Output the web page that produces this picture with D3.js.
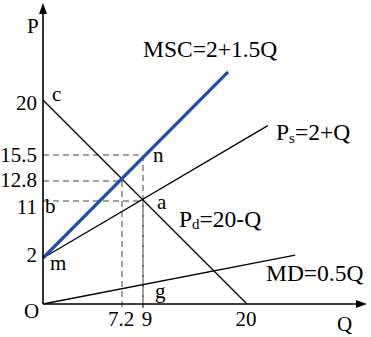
<!DOCTYPE html>
<html>
<head>
<meta charset="utf-8">
<script src="https://cdn.jsdelivr.net/npm/d3@7"></script>
<style>
  body { margin: 0; background: #fff; }
  text { font-family: "Liberation Serif", "Times New Roman", serif; fill: #000; }
</style>
</head>
<body>
<script>
// Schematic diagram: the axes are not to scale, so the scales are piecewise
const qTicks = [7.2, 9, 20];
const pTicks = [20, 15.5, 12.8, 11, 2];

// curves as [Q, P] end points
const msc = [[0, 2], [18, 22.3]];
const ps  = [[0, 2], [22.2, 17.9]];
const pd  = [[0, 20], [20, 0]];
const md  = [[0, 0], [25.1, 2.47]];

// dashed guide lines: [Q, P]
const guides = [[9, 15.5], [7.2, 12.8], [9, 11]];

// point letters: [letter, Q, P]
const points = [["c", 0, 20], ["n", 9, 15.5], ["a", 9, 11], ["b", 0, 11], ["m", 0, 2], ["g", 9, 0.84]];

const width = 371, height = 337;

const x = d3.scaleLinear()
    .domain([0, 7.2, 9, 20])
    .range([43, 122, 143, 247]);

const y = d3.scaleLinear()
    .domain([0, 2, 11, 12.8, 15.5, 20])
    .range([304, 258, 201, 181, 155, 100]);

const svg = d3.select("body").append("svg")
    .attr("width", width)
    .attr("height", height)
    .attr("viewBox", [0, 0, width, height]);

const line = d3.line()
    .x(d => x(d[0]))
    .y(d => y(d[1]));

// dashed guides
guides.forEach(([q, p]) => {
  svg.append("path")
      .attr("d", line([[0, p], [q, p]]))
      .attr("stroke", "#444")
      .attr("stroke-width", 1)
      .attr("stroke-dasharray", "6,4")
      .attr("fill", "none");
  svg.append("path")
      .attr("d", line([[q, p], [q, -0.18]]))
      .attr("stroke", "#444")
      .attr("stroke-width", 1)
      .attr("stroke-dasharray", "6,4")
      .attr("fill", "none");
});

// black curves
[ps, pd, md].forEach(c => {
  svg.append("path")
      .attr("d", line(c))
      .attr("stroke", "#000")
      .attr("stroke-width", 1.3)
      .attr("fill", "none");
});

// MSC in blue
svg.append("path")
    .attr("d", line(msc))
    .attr("stroke", "#1e4fb0")
    .attr("stroke-width", 3.2)
    .attr("fill", "none");

// axes with arrows
const x0 = x(0), y0 = y(0);
svg.append("line")
    .attr("x1", x0).attr("y1", y0)
    .attr("x2", x0).attr("y2", 10)
    .attr("stroke", "#000").attr("stroke-width", 1.6);
svg.append("line")
    .attr("x1", x0).attr("y1", y0)
    .attr("x2", 360).attr("y2", y0)
    .attr("stroke", "#000").attr("stroke-width", 1.6);
svg.append("path")
    .attr("d", `M${x0},3 L${x0 - 4},14 L${x0 + 4},14 Z`)
    .attr("fill", "#000");
svg.append("path")
    .attr("d", `M367,${y0} L356,${y0 - 4} L356,${y0 + 4} Z`)
    .attr("fill", "#000");

// tick labels
const pTickDy = { 20: 10, 15.5: 7, 12.8: 6, 11: 13, 2: 4 };
svg.selectAll(".pt")
  .data(pTicks)
  .join("text")
    .attr("class", "pt")
    .attr("x", 37)
    .attr("y", d => y(d) + pTickDy[d])
    .attr("text-anchor", "end")
    .attr("font-size", 21)
    .text(d => d);

svg.selectAll(".qt")
  .data(qTicks)
  .join("text")
    .attr("class", "qt")
    .attr("x", d => x(d) + (d === 9 ? 4 : -1))
    .attr("y", 326)
    .attr("text-anchor", "middle")
    .attr("font-size", 21)
    .text(d => d);

// axis names and origin
svg.append("text").attr("x", 27).attr("y", 33).attr("font-size", 21).text("P");
svg.append("text").attr("x", 337).attr("y", 331).attr("font-size", 21).text("Q");
svg.append("text").attr("x", 24).attr("y", 318).attr("font-size", 21).text("O");

// point letters
const letterOffset = { c: [9, 1], n: [10, 7], a: [14, 8], b: [2, 12], m: [7, 12], g: [12, 13] };
svg.selectAll(".pl")
  .data(points)
  .join("text")
    .attr("class", "pl")
    .attr("x", d => x(d[1]) + letterOffset[d[0]][0])
    .attr("y", d => y(d[2]) + letterOffset[d[0]][1])
    .attr("font-size", 21)
    .text(d => d[0]);

// curve labels
svg.append("text").attr("x", 143).attr("y", 57).attr("font-size", 23.5).text("MSC=2+1.5Q");

const psLabel = svg.append("text").attr("x", 276).attr("y", 140).attr("font-size", 23.5);
psLabel.append("tspan").text("P");
psLabel.append("tspan").attr("font-size", 15).attr("dy", 3).text("s");
psLabel.append("tspan").attr("dy", -3).text("=2+Q");

const pdLabel = svg.append("text").attr("x", 179).attr("y", 227).attr("font-size", 23.5);
pdLabel.append("tspan").text("P");
pdLabel.append("tspan").attr("font-size", 15).attr("dy", 2).text("d");
pdLabel.append("tspan").attr("dy", -2).text("=20-Q");

svg.append("text").attr("x", 266).attr("y", 281).attr("font-size", 23.5).text("MD=0.5Q");
</script>
</body>
</html>
